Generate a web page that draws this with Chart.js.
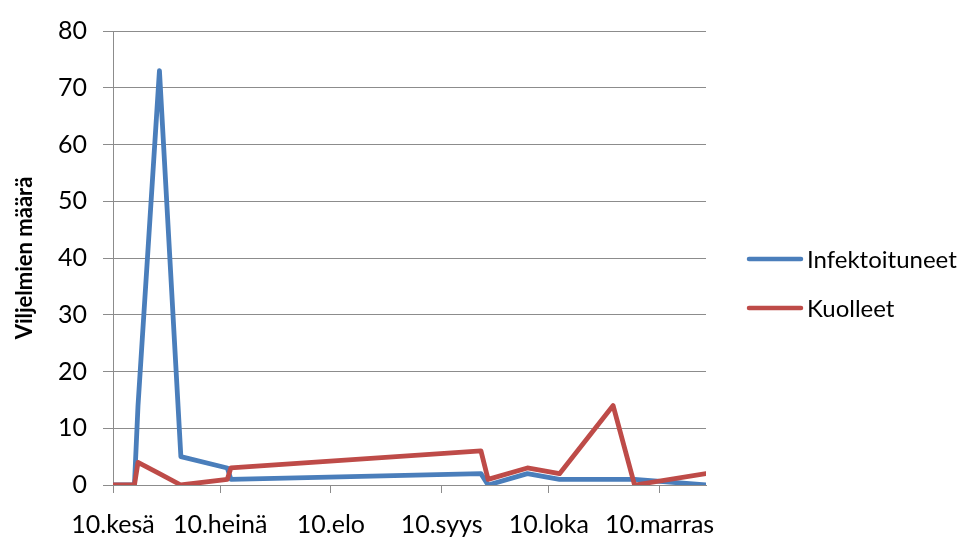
<!DOCTYPE html>
<html>
<head>
<meta charset="utf-8">
<script src="https://cdn.jsdelivr.net/npm/chart.js@4.4.1/dist/chart.umd.min.js"></script>
<style>
  html, body { margin: 0; padding: 0; background: #ffffff; }
  #wrap { width: 969px; height: 540px; }
</style>
</head>
<body>
<div id="wrap"><canvas id="chart" width="969" height="540"></canvas></div>
<script>
// Observation dates (shared by both series)
const dates = [
  '2009-06-10', '2009-06-16', '2009-06-17', '2009-06-23', '2009-06-29',
  '2009-07-12', '2009-07-13', '2009-09-21', '2009-09-23', '2009-10-04',
  '2009-10-13', '2009-10-28', '2009-11-03', '2009-11-23'
];
// Number of infected farms
const infektoituneet = [0, 0, 14, 73, 5, 3, 1, 2, 0, 2, 1, 1, 1, 0];
// Number of farms where the stock died
const kuolleet = [0, 0, 4, 2, 0, 1, 3, 6, 1, 3, 2, 14, 0, 2];
// Month ticks on the date axis
const tickDates = ['2009-06-10', '2009-07-10', '2009-08-10', '2009-09-10', '2009-10-10', '2009-11-10'];
const tickLabels = ['10.kesä', '10.heinä', '10.elo', '10.syys', '10.loka', '10.marras'];
const seriesNames = ['Infektoituneet', 'Kuolleet'];
const yTitle = 'Viljelmien määrä';

// Dates become day numbers counted from the first observation
function toUTC(s) {
  const p = s.split('-').map(Number);
  return Date.UTC(p[0], p[1] - 1, p[2]);
}
const base = toUTC(dates[0]);
const dayOf = s => Math.round((toUTC(s) - base) / 86400000);

const xs = dates.map(dayOf);
const tickDays = tickDates.map(dayOf);
const labelByDay = {};
tickDays.forEach((d, i) => { labelByDay[d] = tickLabels[i]; });

const FONT = 'Lato, "DejaVu Sans", sans-serif';
const GRID = '#8c8c8c';
const colors = ['#4a7ebb', '#be4b48'];

function pts(values) {
  return values.map((v, i) => ({ x: xs[i], y: v }));
}

// Legend at the right, drawn as line samples with labels
const sideLegend = {
  id: 'sideLegend',
  afterDraw(chart) {
    const ctx = chart.ctx;
    ctx.save();
    ctx.font = '24px ' + FONT;
    ctx.textBaseline = 'middle';
    ctx.textAlign = 'left';
    chart.data.datasets.forEach((ds, i) => {
      const y = 259 + i * 49;
      ctx.strokeStyle = ds.borderColor;
      ctx.lineWidth = 4.5;
      ctx.lineCap = 'round';
      ctx.beginPath();
      ctx.moveTo(749, y);
      ctx.lineTo(801, y);
      ctx.stroke();
      ctx.fillStyle = '#000';
      ctx.fillText(ds.label, 807, y + 1);
    });
    ctx.restore();
  }
};

new Chart(document.getElementById('chart'), {
  type: 'line',
  data: {
    datasets: [
      {
        label: seriesNames[0],
        data: pts(infektoituneet),
        borderColor: colors[0],
        backgroundColor: colors[0],
        borderWidth: 4.8,
        pointRadius: 0,
        tension: 0,
        borderJoinStyle: 'round',
        borderCapStyle: 'round',
        order: 2
      },
      {
        label: seriesNames[1],
        data: pts(kuolleet),
        borderColor: colors[1],
        backgroundColor: colors[1],
        borderWidth: 4.8,
        pointRadius: 0,
        tension: 0,
        borderJoinStyle: 'round',
        borderCapStyle: 'round',
        order: 1
      }
    ]
  },
  options: {
    responsive: false,
    animation: false,
    events: [],
    layout: { padding: { left: 0, top: 24, right: 263, bottom: 0 } },
    plugins: {
      legend: { display: false },
      tooltip: { enabled: false },
      title: { display: false }
    },
    scales: {
      x: {
        type: 'linear',
        min: xs[0],
        max: xs[xs.length - 1],
        afterBuildTicks(scale) {
          scale.ticks = tickDays.map(v => ({ value: v }));
        },
        afterFit(scale) { scale.height = 55; },
        ticks: {
          autoSkip: false,
          maxRotation: 0,
          padding: 17,
          color: '#000',
          font: { family: FONT, size: 25 },
          callback: v => labelByDay[v] ?? ''
        },
        grid: {
          drawOnChartArea: false,
          drawTicks: true,
          tickLength: 8,
          color: GRID,
          lineWidth: 1
        },
        border: { display: true, color: GRID, width: 1 }
      },
      y: {
        min: 0,
        max: 80,
        afterFit(scale) { scale.width = 113; },
        ticks: {
          stepSize: 10,
          padding: 16,
          color: '#000',
          font: { family: FONT, size: 25 }
        },
        grid: {
          color: GRID,
          lineWidth: 1,
          drawTicks: true,
          tickLength: 10
        },
        border: { display: true, color: GRID, width: 1 },
        title: {
          display: true,
          text: yTitle,
          color: '#000',
          font: { family: FONT, size: 22, weight: 'bold' },
          padding: { top: 12, bottom: 0 }
        }
      }
    }
  },
  plugins: [sideLegend]
});
</script>
</body>
</html>
